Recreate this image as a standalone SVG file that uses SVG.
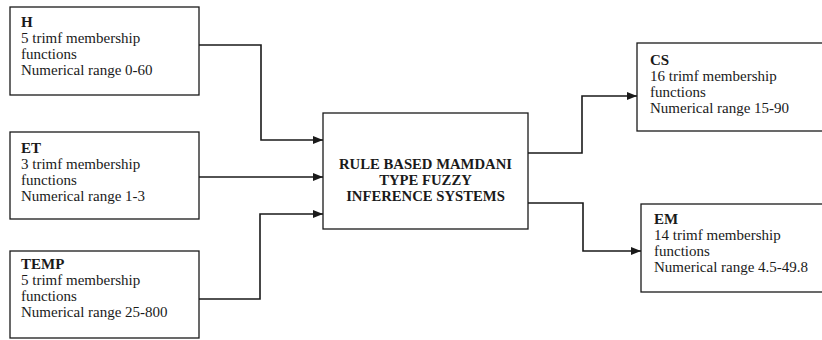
<svg xmlns="http://www.w3.org/2000/svg" width="822" height="340" viewBox="0 0 822 340">
<defs>
<marker id="arr" markerWidth="10" markerHeight="8" refX="10" refY="4" orient="auto" markerUnits="userSpaceOnUse">
<path d="M0,0 L10,4 L0,8 Z" fill="#1a1a1a"/>
</marker>
</defs>
<style>
.box{fill:#fff;stroke:#1a1a1a;stroke-width:1.3}
.t{font-family:"Liberation Serif","Times New Roman",serif;font-size:15px;fill:#1a1a1a}
.b{font-weight:bold}
.c{font-family:"Liberation Serif","Times New Roman",serif;font-size:14.7px;font-weight:bold;fill:#1a1a1a;text-anchor:middle}
.ln{fill:none;stroke:#1a1a1a;stroke-width:1.6}
</style>
<rect width="822" height="340" fill="#fff"/>
<g id="H">
<rect class="box" x="10" y="7" width="189" height="88"/>
<text class="t" x="21" y="27"><tspan class="b">H</tspan><tspan x="21" y="43">5 trimf membership</tspan><tspan x="21" y="59">functions</tspan><tspan x="21" y="75">Numerical range 0-60</tspan></text>
</g>
<g id="ET">
<rect class="box" x="10" y="132" width="189" height="87"/>
<text class="t" x="21" y="153"><tspan class="b">ET</tspan><tspan x="21" y="169">3 trimf membership</tspan><tspan x="21" y="185">functions</tspan><tspan x="21" y="201">Numerical range 1-3</tspan></text>
</g>
<g id="TEMP">
<rect class="box" x="10" y="251" width="189" height="87"/>
<text class="t" x="21" y="269"><tspan class="b">TEMP</tspan><tspan x="21" y="285">5 trimf membership</tspan><tspan x="21" y="301">functions</tspan><tspan x="21" y="317">Numerical range 25-800</tspan></text>
</g>
<g id="FIS">
<rect class="box" x="323" y="113" width="205" height="116"/>
<text class="c" x="425.5" y="169">RULE BASED MAMDANI<tspan x="425.5" y="185">TYPE FUZZY</tspan><tspan x="425.5" y="201">INFERENCE SYSTEMS</tspan></text>
</g>
<g id="CS">
<rect class="box" x="637" y="43" width="195" height="88"/>
<text class="t" x="650" y="65"><tspan class="b">CS</tspan><tspan x="650" y="81">16 trimf membership</tspan><tspan x="650" y="97">functions</tspan><tspan x="650" y="113">Numerical range 15-90</tspan></text>
</g>
<g id="EM">
<rect class="box" x="641" y="204" width="195" height="88"/>
<text class="t" x="654" y="224"><tspan class="b">EM</tspan><tspan x="654" y="240">14 trimf membership</tspan><tspan x="654" y="256">functions</tspan><tspan x="654" y="272">Numerical range 4.5-49.8</tspan></text>
</g>
<g id="connectors">
<polyline class="ln" points="199,45 261,45 261,140 323,140" marker-end="url(#arr)"/>
<polyline class="ln" points="199,177 323,177" marker-end="url(#arr)"/>
<polyline class="ln" points="199,299 260,299 260,214 323,214" marker-end="url(#arr)"/>
<polyline class="ln" points="528,153 582,153 582,96 637,96" marker-end="url(#arr)"/>
<polyline class="ln" points="528,203 583,203 583,251 641,251" marker-end="url(#arr)"/>
</g>
</svg>
